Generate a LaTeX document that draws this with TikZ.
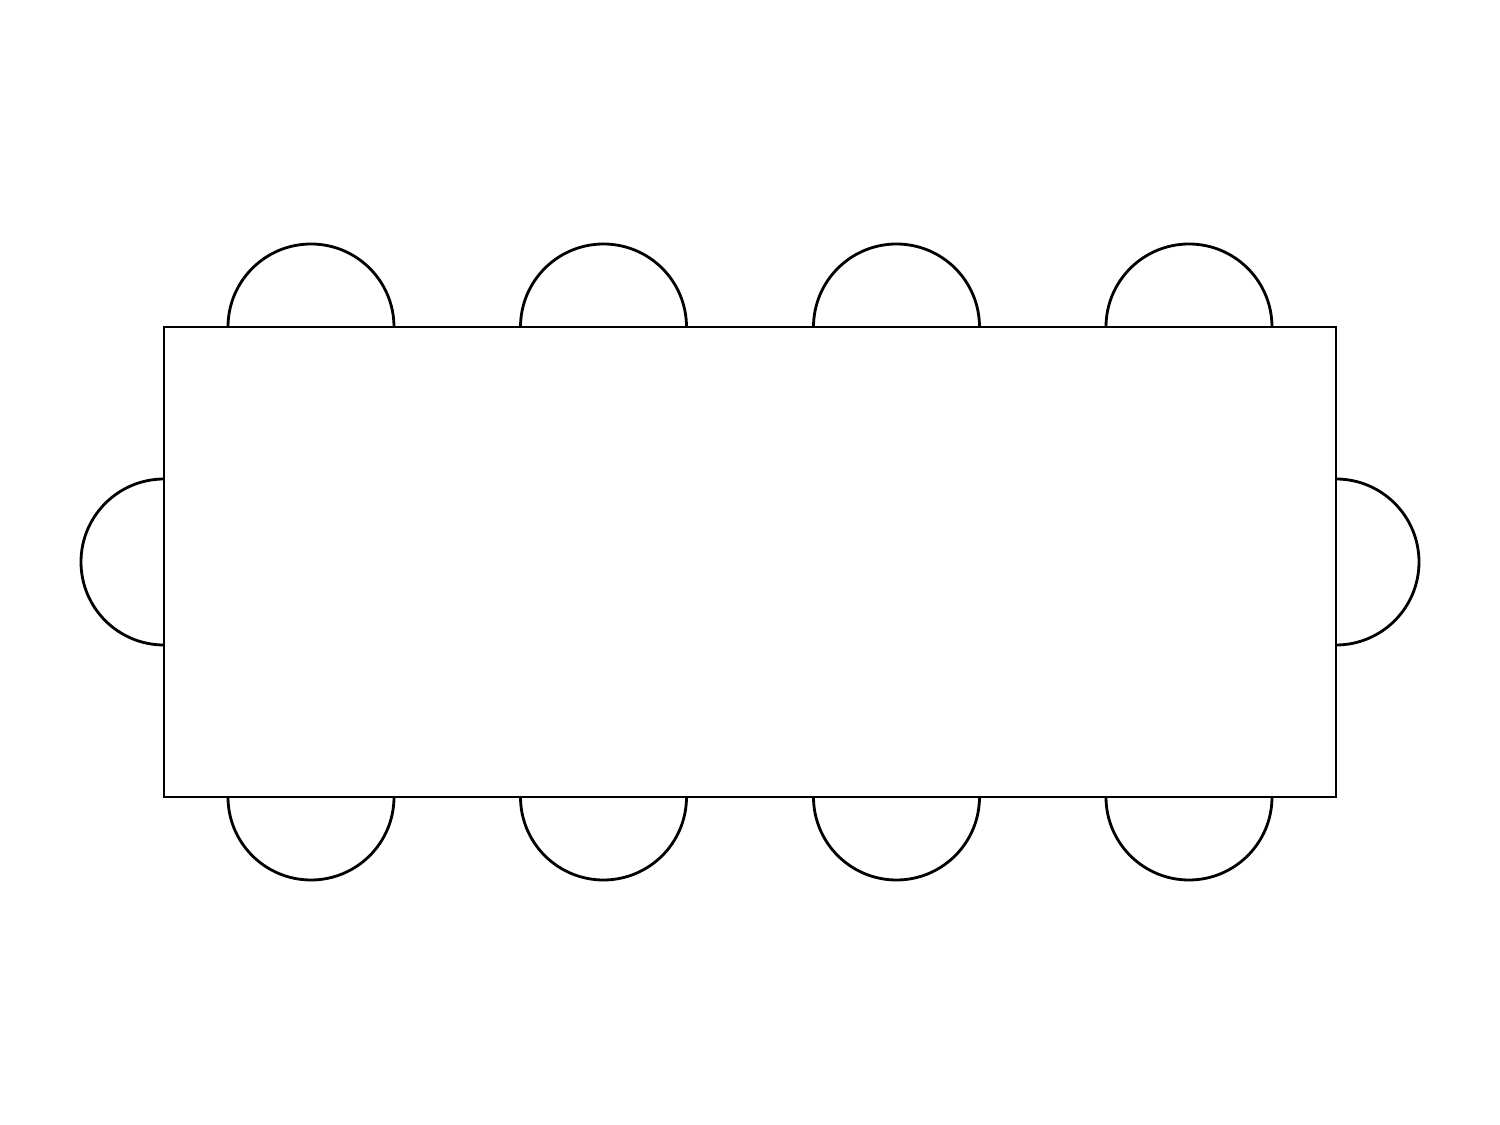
\documentclass[tikz,border=0pt]{standalone}
\begin{document}
\begin{tikzpicture}[line width=0.8pt, chair/.style={draw=black}, tablebox/.style={draw=black}]
\useasboundingbox (0,0) rectangle (15,11.25);
% table
\draw[tablebox] (1.64,3.28) rectangle (13.36,7.98);
% top and bottom chairs
\foreach \cx in {3.11,6.035,8.965,11.89} {
  \draw[chair] (\cx-0.83,7.98) arc[start angle=180,end angle=0,radius=0.83];
  \draw[chair] (\cx-0.83,3.28) arc[start angle=180,end angle=360,radius=0.83];
}
% end chairs
\draw[chair] (1.64,6.46) arc[start angle=90,end angle=270,radius=0.83];
\draw[chair] (13.36,6.46) arc[start angle=90,end angle=-90,radius=0.83];
\end{tikzpicture}
\end{document}
